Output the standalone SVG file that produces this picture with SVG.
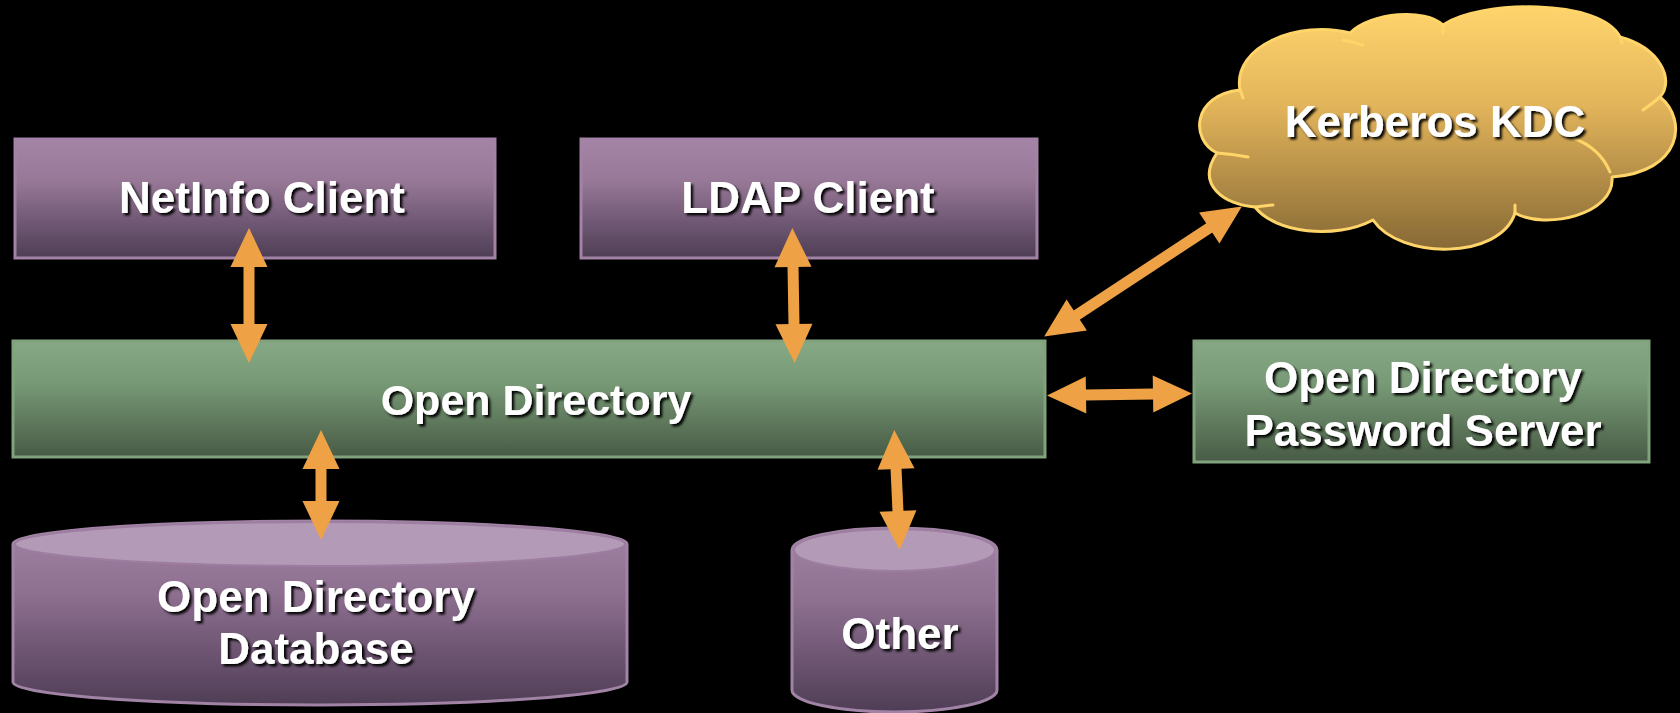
<svg xmlns="http://www.w3.org/2000/svg" width="1680" height="713" viewBox="0 0 1680 713">
<defs>
<linearGradient id="gPurple" x1="0" y1="0" x2="0" y2="1"><stop offset="0" stop-color="#A585A7"/><stop offset="0.35" stop-color="#977897"/><stop offset="1" stop-color="#4E3D55"/></linearGradient>
<linearGradient id="gGreen" x1="0" y1="0" x2="0" y2="1"><stop offset="0" stop-color="#86A884"/><stop offset="0.35" stop-color="#789A76"/><stop offset="1" stop-color="#485B45"/></linearGradient>
<linearGradient id="gGold" x1="0" y1="0" x2="0" y2="1"><stop offset="0" stop-color="#FFD46C"/><stop offset="0.4" stop-color="#E3B55B"/><stop offset="1" stop-color="#876935"/></linearGradient>
<linearGradient id="gCyl" x1="0" y1="0" x2="0" y2="1"><stop offset="0" stop-color="#A384A6"/><stop offset="0.4" stop-color="#8D6F90"/><stop offset="1" stop-color="#4F3D55"/></linearGradient>
<filter id="sh" x="-10%" y="-20%" width="120%" height="150%"><feDropShadow dx="2.5" dy="2.5" stdDeviation="0.8" flood-color="#000" flood-opacity="0.95"/></filter>
<marker id="ah" markerUnits="userSpaceOnUse" markerWidth="40" markerHeight="38" viewBox="0 -19 39 38" refX="1" refY="0" orient="auto-start-reverse"><path d="M0,-18.5 L39,0 L0,18.5 Z" fill="#EEA245"/></marker>
</defs>
<style>
.lbl{font-family:"Liberation Sans",Arial,sans-serif;font-weight:bold;font-size:44px;fill:#fff;text-anchor:middle;filter:url(#sh)}
.pbox{fill:url(#gPurple);stroke:#A283A6;stroke-width:3}
.gbox{fill:url(#gGreen);stroke:#80A37E;stroke-width:3}
.cyl{fill:url(#gCyl);stroke:#A183A5;stroke-width:3}
.cyltop{fill:#B39BB7;stroke:#9D7EA1;stroke-width:2}
.arr{stroke:#EEA245;stroke-width:11;fill:none;marker-start:url(#ah);marker-end:url(#ah)}
.cloud{fill:url(#gGold);stroke:#FFD56A;stroke-width:3;stroke-linejoin:round}
.stub{fill:none;stroke:#FFD56A;stroke-width:3;stroke-linecap:round}
</style>
<rect width="1680" height="713" fill="#000"/>

<g id="netinfo-client">
<rect class="pbox" x="15" y="139" width="480" height="119"/>
<text class="lbl" x="262" y="213">NetInfo Client</text>
</g>

<g id="ldap-client">
<rect class="pbox" x="581" y="139" width="456" height="119"/>
<text class="lbl" x="808" y="213">LDAP Client</text>
</g>

<g id="open-directory">
<rect class="gbox" x="13" y="341" width="1032" height="116"/>
<text class="lbl" x="536" y="415" style="font-size:43px">Open Directory</text>
</g>

<g id="password-server">
<rect class="gbox" x="1194" y="341" width="455" height="121"/>
<text class="lbl" x="1423" y="393">Open Directory</text>
<text class="lbl" x="1423" y="446">Password Server</text>
</g>

<g id="kerberos-kdc">
<path class="cloud" d="M1255,207 C1225,205 1195,185 1217,153 C1190,140 1192,95 1240,90 C1232,45 1300,20 1350,33 C1372,12 1425,8 1443,25 C1480,0 1600,-2 1620,37 C1660,48 1675,80 1660,97 C1688,120 1682,172 1612,177 C1615,215 1545,230 1515,213 C1500,260 1400,260 1373,220 C1335,240 1275,233 1255,207 Z"/>
<path class="stub" d="M1240,90 q2,4 3,8 M1217,153 q15,1 31,4 M1255,207 q9,-1 18,-2 M1343,40 q10,2 20,5 M1443,25 q0,4 0,8 M1620,37 q1,3 2,6 M1660,97 q-8,7 -17,13 M1573,138 Q1600,148 1610,172 M1515,205 l0,8"/>
<text class="lbl" x="1435" y="137">Kerberos KDC</text>
</g>

<g id="od-database">
<path class="cyl" d="M13,544 A307,23 0 0 1 627,544 L627,682 A307,23 0 0 1 13,682 Z"/>
<ellipse class="cyltop" cx="320" cy="544" rx="305" ry="22"/>
<text class="lbl" x="316" y="612">Open Directory</text>
<text class="lbl" x="316" y="664">Database</text>
</g>

<g id="other">
<path class="cyl" d="M792,550 A102.5,22 0 0 1 997,550 L997,690 A102.5,22 0 0 1 792,690 Z"/>
<ellipse class="cyltop" cx="894.5" cy="550" rx="100.5" ry="21"/>
<text class="lbl" x="900" y="649">Other</text>
</g>

<g id="connectors">
<line class="arr" x1="249" y1="266" x2="249" y2="325"/>
<line class="arr" x1="793" y1="266" x2="794" y2="325"/>
<line class="arr" x1="321" y1="468" x2="321" y2="502"/>
<line class="arr" x1="896" y1="468" x2="898" y2="512"/>
<line class="arr" x1="1085" y1="395" x2="1154" y2="394"/>
<line class="arr" x1="1075.9" y1="315.6" x2="1210.1" y2="227.4"/>
</g>
</svg>
